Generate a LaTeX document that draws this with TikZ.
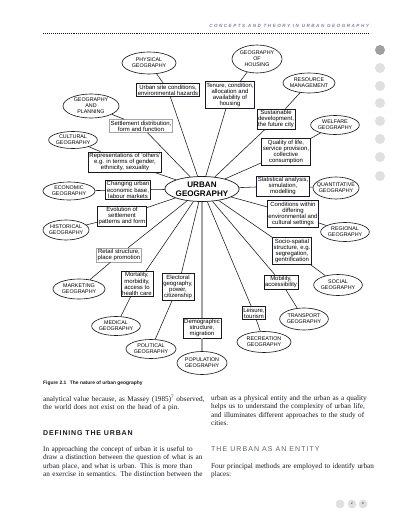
\documentclass[tikz,border=0pt]{standalone}
\usepackage{fontspec}
\setmainfont{Liberation Serif}
\setsansfont{Liberation Sans}
\usepackage{xcolor}
\usepackage{tikz}
\usetikzlibrary{shapes.geometric, positioning}
\definecolor{ink}{RGB}{25,25,35}
\definecolor{spoke}{RGB}{165,165,165}
\definecolor{headgray}{RGB}{125,135,155}
\definecolor{subgray}{RGB}{95,100,110}
\definecolor{dotdark}{RGB}{160,160,160}
\definecolor{dotlight}{RGB}{224,224,224}
\newfontfamily\runheadfont[LetterSpace=33]{Liberation Sans}
\newfontfamily\sectionfont[LetterSpace=12]{Liberation Sans}
\newfontfamily\subsectionfont[LetterSpace=15]{Liberation Sans}
\newcommand{\jline}[1]{\makebox[7.9cm][s]{#1}}

\begin{document}
\begin{tikzpicture}[
  x=0.05cm, y=-0.05cm,
  geo/.style 2 args={ellipse, draw=ink, line width=0.9pt, inner sep=0pt,
                minimum width=#1, minimum height=#2,
                font=\sffamily\fontsize{7.6}{8.6}\selectfont, align=center},
  topic/.style={rectangle, draw=ink, line width=0.9pt, inner sep=1.6pt,
                font=\sffamily\fontsize{8.5}{8.8}\selectfont, align=center},
  link/.style={line width=0.8pt, color=ink},
  poplink/.style={line width=2.6pt, color=spoke},
  body/.style={anchor=north west, inner sep=0pt, text width=7.9cm, align=left,
               font=\fontsize{10.3}{12}\selectfont, text=ink}
]
  \fill[white] (0,0) rectangle (409,526);
  \useasboundingbox (0,0) rectangle (409,526);

  % running head
  \node[anchor=east, inner sep=0pt, text=headgray,
        font=\runheadfont\bfseries\itshape\fontsize{6.5}{7}\selectfont] (runhead) at (369,26)
    {CONCEPTS AND THEORY IN URBAN GEOGRAPHY};
  \draw[dotted, line width=0.8pt, color=ink] (43,33) -- (369,33);

  % side tabs
  \fill[dotdark] (380,50) circle (0.25cm);
  \foreach \y in {68,86,103,121,139,157,176}
    \fill[dotlight] (380,\y) circle (0.25cm);

  % centre
  \node[ellipse, draw=ink, line width=1pt, inner sep=0pt, minimum width=3.6cm, minimum height=1.25cm,
        font=\sffamily\bfseries\fontsize{11.5}{12.5}\selectfont, align=center] (urban) at (202,189)
    {URBAN\\GEOGRAPHY};

  % sub-fields
  \node[geo={2.7cm}{1.1cm}]   (phys) at (149,63)  {PHYSICAL\\GEOGRAPHY};
  \node[geo={2.5cm}{1.4cm}]   (hous) at (257,59)  {GEOGRAPHY\\OF\\HOUSING};
  \node[geo={2.6cm}{1.0cm}, inner xsep=-2pt] (resm) at (309,83)  {RESOURCE\\MANAGEMENT};
  \node[geo={2.2cm}{0.95cm}]  (welf) at (335,125) {WELFARE\\GEOGRAPHY};
  \node[geo={2.3cm}{1.1cm}, inner xsep=-4pt] (quan) at (336,188) {QUANTITATIVE\\GEOGRAPHY};
  \node[geo={2.2cm}{0.95cm}]  (regi) at (345,232) {REGIONAL\\GEOGRAPHY};
  \node[geo={2.4cm}{1.05cm}]  (soci) at (338,285) {SOCIAL\\GEOGRAPHY};
  \node[geo={2.4cm}{1.1cm}]   (tran) at (304,319) {TRANSPORT\\GEOGRAPHY};
  \node[geo={2.7cm}{1.05cm}]  (recr) at (264,342) {RECREATION\\GEOGRAPHY};
  \node[geo={2.5cm}{1.15cm}]  (popu) at (202,363) {POPULATION\\GEOGRAPHY};
  \node[geo={2.5cm}{0.95cm}]  (poli) at (151,349) {POLITICAL\\GEOGRAPHY};
  \node[geo={2.3cm}{0.95cm}]  (medi) at (116,326) {MEDICAL\\GEOGRAPHY};
  \node[geo={2.6cm}{1.0cm}]   (mark) at (79,289)  {MARKETING\\GEOGRAPHY};
  \node[geo={2.3cm}{1.0cm}, inner xsep=-2pt] (hist) at (66,230)  {HISTORICAL\\GEOGRAPHY};
  \node[geo={2.6cm}{0.9cm}]   (econ) at (69,191)  {ECONOMIC\\GEOGRAPHY};
  \node[geo={2.3cm}{0.85cm}]  (cult) at (73,140)  {CULTURAL\\GEOGRAPHY};
  \node[geo={2.8cm}{1.2cm}]   (plan) at (91,106)  {GEOGRAPHY\\AND\\PLANNING};

  % themes
  \node[topic] (site) at (168,90)  {Urban site conditions,\\environmental hazards};
  \node[topic] (tenu) at (230,95)  {Tenure, condition,\\allocation and\\availability of\\housing};
  \node[topic] (sust) at (276,119) {Sustainable\\development,\\the future city};
  \node[topic] (qual) at (286,152) {Quality of life,\\service provision,\\collective\\consumption};
  \node[topic] (stat) at (283,186) {Statistical analysis,\\simulation,\\modelling};
  \node[topic] (cond) at (293,214) {Conditions within\\differing\\environmental and\\cultural settings};
  \node[topic] (socs) at (292,251) {Socio-spatial\\structure, e.g.\\segregation,\\gentrification};
  \node[topic] (mobi) at (281,282) {Mobility,\\accessibility};
  \node[topic] (leis) at (254,313) {Leisure,\\tourism};
  \node[topic] (demo) at (202,328) {Demographic\\structure,\\migration};
  \node[topic] (elec) at (178,287) {Electoral\\geography,\\power,\\citizenship};
  \node[topic] (mort) at (137,284) {Mortality,\\morbidity,\\access to\\health care};
  \node[topic, draw=spoke] (reta) at (119,255) {Retail structure,\\place promotion};
  \node[topic] (evol) at (122,216) {Evolution of\\settlement\\patterns and form};
  \node[topic] (chan) at (128,190) {Changing urban\\economic base,\\labour markets};
  \node[topic] (repr) at (125,162) {Representations of `others'\\e.g. in terms of gender,\\ethnicity, sexuality};
  \node[topic, draw=spoke] (sett) at (141,126) {Settlement distribution,\\form and function};

  \foreach \a/\b in {phys/site,site/urban,hous/tenu,tenu/urban,resm/sust,sust/urban,
                     welf/qual,qual/urban,quan/stat,stat/urban,regi/cond,cond/urban,
                     soci/socs,socs/urban,tran/mobi,mobi/urban,recr/leis,leis/urban,
                     poli/elec,elec/urban,medi/mort,mort/urban,mark/reta,reta/urban,
                     hist/evol,evol/urban,econ/chan,chan/urban,cult/repr,repr/urban,
                     plan/sett,sett/urban}
    \draw[link] (\a) -- (\b);
  \draw[poplink] (urban) -- (demo);
  \draw[poplink] (demo) -- (popu);

  % caption and text
  \node[anchor=west, inner sep=0pt, text=ink,
        font=\sffamily\bfseries\fontsize{7}{8}\selectfont] (caption) at (43,383)
    {Figure 2.1\hspace{5pt}The nature of urban geography};

  \node[body] (massey) at (43,395)
    {\jline{analytical value because, as Massey (1985)\textsuperscript{7} observed,}\\
     the world does not exist on the head of a pin.};
  \node[anchor=west, inner sep=0pt, text=ink,
        font=\sectionfont\bfseries\fontsize{10}{12}\selectfont] (defining) at (43,433)
    {DEFINING THE URBAN};
  \node[body] (approach) at (43,446)
    {\jline{In approaching the concept of urban it is useful to}\\
     \jline{draw a distinction between the question of what is an}\\
     \jline{urban place, and what is urban. This is more than}\\
     \jline{an exercise in semantics. The distinction between the}};

  \node[body] (quality) at (211,395)
    {\jline{urban as a physical entity and the urban as a quality}\\
     \jline{helps us to understand the complexity of urban life,}\\
     \jline{and illuminates different approaches to the study of}\\
     cities.};
  \node[anchor=west, inner sep=0pt, text=subgray,
        font=\subsectionfont\fontsize{10}{12}\selectfont] (entity) at (211,449)
    {THE URBAN AS AN ENTITY};
  \node[body] (methods) at (211,463)
    {\jline{Four principal methods are employed to identify urban}\\
     places:};

  % folio
  \fill[dotlight] (340,504) circle (0.22cm);
  \node[circle, fill=dotlight, inner sep=0pt, minimum size=0.44cm,
        font=\sffamily\fontsize{4}{4}\selectfont] (folioa) at (352,504) {2};
  \node[circle, fill=dotlight, inner sep=0pt, minimum size=0.44cm,
        font=\sffamily\fontsize{4}{4}\selectfont] (foliob) at (363,504) {9};
\end{tikzpicture}
\end{document}
